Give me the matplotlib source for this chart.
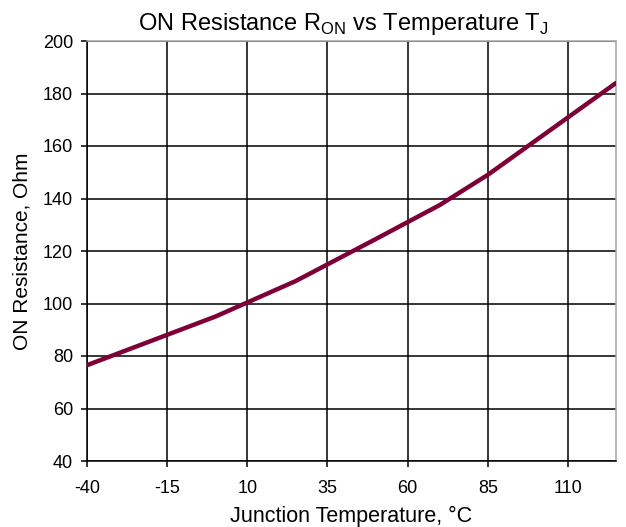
import matplotlib
matplotlib.use("Agg")
import matplotlib.pyplot as plt

# data
temp = [-40, 0, 25, 50, 70, 85, 125]
r_on = [76.5, 95.0, 108.5, 124.5, 137.5, 149.0, 184.0]

x_ticks = [-40, -15, 10, 35, 60, 85, 110]
y_ticks = [40, 60, 80, 100, 120, 140, 160, 180, 200]

plt.rcParams['font.family'] = ['Liberation Sans', 'DejaVu Sans']
plt.rcParams['axes.unicode_minus'] = False
plt.rcParams['xtick.labelsize'] = 13
plt.rcParams['ytick.labelsize'] = 13

fig = plt.figure(figsize=(6.26, 5.27), dpi=100)
fig.subplots_adjust(left=87/626, right=616/626, bottom=1-461/527, top=1-41/527)
ax = fig.add_subplot(1, 1, 1)

ax.plot(temp, r_on, color="#7f0037", linewidth=3.2, solid_capstyle="round", zorder=3)

ax.set_xlim(-40, 125)
ax.set_ylim(40, 200)
ax.set_xticks(x_ticks)
ax.set_yticks(y_ticks)
ax.grid(True, color="black", linewidth=1.1)
ax.tick_params(direction="out", length=4, width=1.1, color="black")
ax.tick_params(axis="y", pad=6)
ax.tick_params(axis="x", pad=10)

for side in ["left", "bottom"]:
    ax.spines[side].set_color("black")
    ax.spines[side].set_linewidth(1.1)
for side in ["top", "right"]:
    ax.spines[side].set_color("#a6a6a6")
    ax.spines[side].set_linewidth(1.1)

ax.set_title(r"ON Resistance R$_\mathregular{ON}$ vs Temperature T$_\mathregular{J}$",
             fontsize=17, pad=8, x=0.485)
ax.set_xlabel("Junction Temperature, °C", fontsize=15.5, labelpad=6)
ax.set_ylabel("ON Resistance, Ohm", fontsize=15, labelpad=8)

fig.savefig("out.png", dpi=100)
